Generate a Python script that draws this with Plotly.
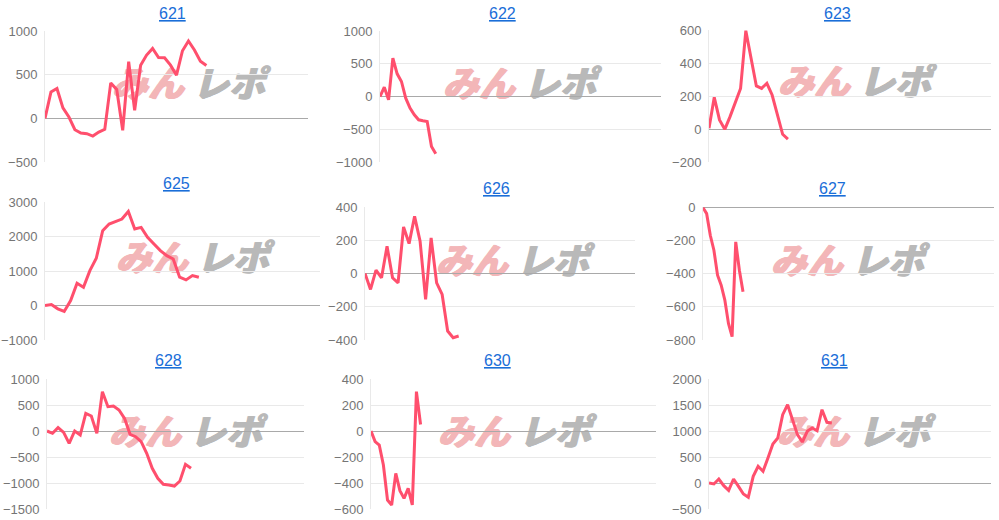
"""
台番号ごとの差枚推移を 3x3 の小さな折れ線グラフで並べる。
- タイトルは下線付きのリンク風テキスト
- 各パネルの中央に「みんレポ」ロゴを薄く敷く (折れ線より下)
"""

import plotly.graph_objects as go

W, H = 999, 520

LINE = "#ff4f6d"
GRID = "#e9e9e9"
ZERO = "#a9a9a9"
TICK = "#757575"
LINK = "#1a6ed8"
FONT = "Liberation Sans, Arial, sans-serif"
JP = "Noto Sans CJK JP"

# --- データ (差枚) ----------------------------------------------------------
TITLES = ["621", "622", "623", "625", "626", "627", "628", "630", "631"]

D621 = [0, 303, 341, 119, 15, -130, -169, -176, -203, -157, -126, 406, 330,
        -138, 648, 92, 609, 724, 801, 697, 693, 609, 494, 774, 885, 782, 655, 605]
D622 = [0, 142, -51, 585, 346, 229, -25, -178, -280, -356, -370, -382, -763, -875]
D623 = [4, 192, 55, -2, 75, 155, 246, 596, 438, 261, 246, 277, 206, 85, -32, -61]
D625 = [0, 29, -96, -173, 145, 645, 530, 1012, 1368, 2168, 2360, 2437, 2505,
        2726, 2216, 2264, 1975, 1782, 1590, 1445, 1349, 819, 742, 867, 819]
D626 = [0, -96, 20, -26, 164, -26, -56, 280, 180, 344, 194, -156, 214, -56,
        -126, -346, -386, -376]
D627 = [-4, -40, -170, -260, -410, -470, -560, -700, -780, -210, -380, -510]
D628 = [0, -45, 64, -26, -237, 0, -77, 340, 288, -45, 756, 468, 481, 404, 244,
        -64, -109, -205, -429, -718, -910, -1026, -1038, -1058, -962, -641, -718]
D630 = [0, -82, -108, -262, -531, -569, -326, -459, -518, -441, -569, 303, 50]
D631 = [0, -19, 77, -51, -141, 77, -64, -212, -276, 128, 321, 224, 481, 750,
        865, 1314, 1506, 1237, 929, 788, 994, 1058, 1006, 1410, 1167, 1154]

SERIES = [D621, D622, D623, D625, D626, D627, D628, D630, D631]

# --- パネル配置 (ピクセル) ------------------------------------------------------
# (x0, x1, y0, y1) プロット領域, y範囲, 目盛間隔, x最大
PANELS = [
    ((45, 308, 31, 162), (-500, 1000), 500, 44),
    ((380, 661, 31, 162), (-1000, 1000), 500, 65.5),
    ((709, 991, 30, 162), (-200, 600), 200, 53.6),
    ((45, 320, 202, 340), (-1000, 3000), 1000, 42.9),
    ((365, 635, 207, 340), (-400, 400), 200, 49),
    ((703, 994, 207, 340), (-800, 0), 200, 80),
    ((47, 304, 379, 509), (-1500, 1000), 500, 46.4),
    ((371, 656, 379, 509), (-600, 400), 200, 69),
    ((709, 991, 379, 509), (-500, 2000), 500, 57.4),
]
TITLE_POS = [(172, 13), (502, 13), (837, 13), (176, 183), (496, 188),
             (832, 188), (168, 360), (497, 360), (834, 360)]
LOGO_POS = [(189, 88), (520, 88), (855, 86), (193, 262), (513, 265),
            (848, 265), (186, 436), (515, 436), (854, 436)]


def px(x):
    return x / W


def py(y):
    return 1 - y / H


fig = go.Figure()
layout = {}

# --- ロゴ用の全面オーバーレイ軸 (最初のサブプロット = 最背面) -----------------
layout["xaxis"] = dict(domain=[0, 1], range=[0, W], visible=False, fixedrange=True)
layout["yaxis"] = dict(domain=[0, 1], range=[H, 0], visible=False, fixedrange=True)

for word, dx, color in (("みん", -41, "#f3b6b8"), ("レポ", 40, "#b9b9b9")):
    xs, ys = [], []
    for lx, ly in LOGO_POS:
        for ox in (-0.8, 0, 0.8):      # 重ね描きで太字風に
            xs.append(lx + dx + ox)
            ys.append(ly)
    fig.add_trace(go.Scatter(
        x=xs, y=ys, mode="text", text=[word] * len(xs),
        textfont=dict(family=JP, size=36, color=color, weight=900,
                      style="italic"),
        hoverinfo="skip", showlegend=False, xaxis="x", yaxis="y",
    ))

# --- 9 パネル -------------------------------------------------------------------
for i, (vals, (box, yr, dt, xmax)) in enumerate(zip(SERIES, PANELS)):
    n = str(i + 2)
    x0, x1, y0, y1 = box
    layout[f"xaxis{n}"] = dict(
        domain=[px(x0), px(x1)], range=[0, xmax], anchor=f"y{n}",
        showgrid=False, zeroline=False, showticklabels=False, ticks="",
        showline=False, fixedrange=True,
    )
    layout[f"yaxis{n}"] = dict(
        domain=[py(y1), py(y0)], range=list(yr), anchor=f"x{n}",
        tick0=0, dtick=dt, gridcolor=GRID, gridwidth=1,
        zeroline=True, zerolinecolor=ZERO, zerolinewidth=1,
        showline=True, linecolor=GRID, linewidth=1,
        tickfont=dict(family=FONT, size=13, color=TICK), ticks="",
        ticklabelstandoff=4, fixedrange=True, automargin=False,
    )
    fig.add_trace(go.Scatter(
        x=list(range(len(vals))), y=vals, mode="lines",
        line=dict(color=LINE, width=3), xaxis=f"x{n}", yaxis=f"y{n}",
        hoverinfo="y", showlegend=False,
    ))

annotations = []
for t, (tx, ty) in zip(TITLES, TITLE_POS):
    annotations.append(dict(
        text=f"<u>{t}</u>", x=px(tx), y=py(ty), xref="paper", yref="paper",
        showarrow=False, xanchor="center", yanchor="middle",
        font=dict(family=FONT, size=16, color=LINK),
    ))

fig.update_layout(
    width=W, height=H,
    margin=dict(l=0, r=0, t=0, b=0, pad=0, autoexpand=False),
    paper_bgcolor="white", plot_bgcolor="rgba(0,0,0,0)",
    annotations=annotations,
    **layout,
)

# ページ既定の body 余白 (8px) を消して図を左上に合わせる
fig.write_html("out.html", config={"displayModeBar": False},
               post_script="document.body.style.margin = '0';")
